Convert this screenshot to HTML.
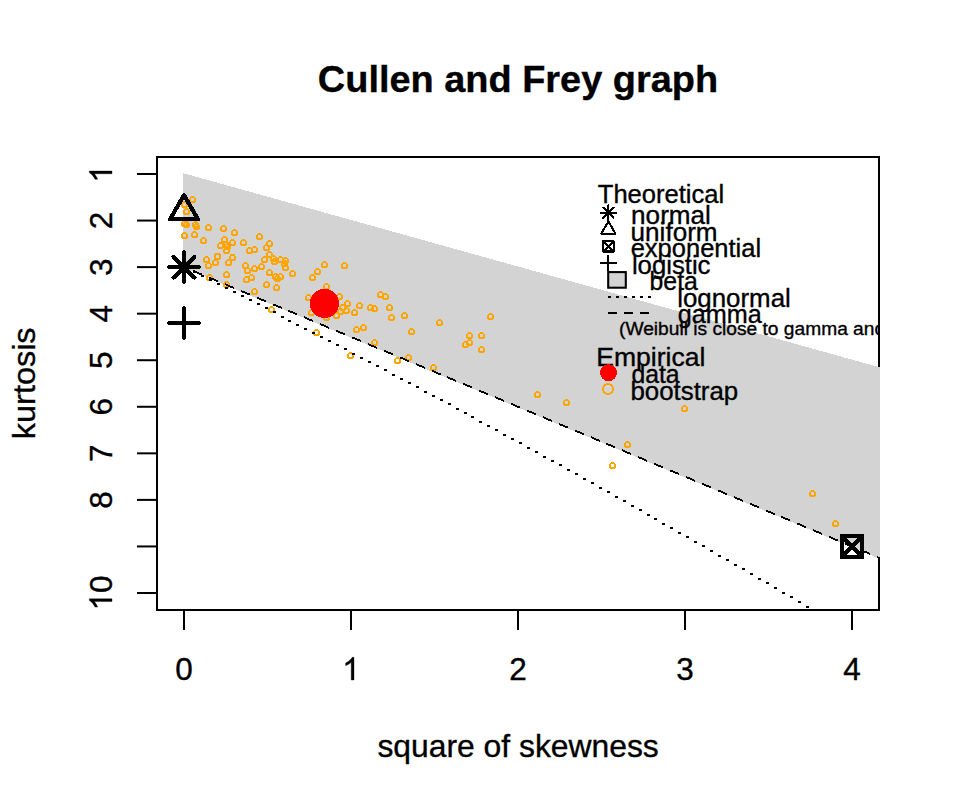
<!DOCTYPE html><html><head><meta charset="utf-8"><style>html,body{margin:0;padding:0;background:#fff;width:960px;height:806px;overflow:hidden}</style></head><body><svg width="960" height="806" viewBox="0 0 960 806" style="display:block">
<defs><clipPath id="c"><rect x="156.0" y="156.0" width="724.0" height="455.0"/></clipPath><clipPath id="c2"><rect x="156.0" y="156.0" width="722.0" height="455.0"/></clipPath></defs>
<rect width="960" height="806" fill="#fff"/>
<rect x="157.0" y="157.0" width="722.0" height="453.0" fill="none" stroke="#000" stroke-width="2"/>
<g clip-path="url(#c)">
<polygon points="183,173.11 880,367.42 880,558.95 183,267.48" fill="#d3d3d3" shape-rendering="crispEdges"/>
<g fill="none" stroke="#ffa500" stroke-width="2" shape-rendering="crispEdges"><circle cx="192.5" cy="199.5" r="2.5"/><circle cx="184.5" cy="204.5" r="2.5"/><circle cx="186.5" cy="211.5" r="2.5"/><circle cx="184.5" cy="223.5" r="2.5"/><circle cx="186.5" cy="224.5" r="2.5"/><circle cx="195.5" cy="224.5" r="2.5"/><circle cx="196.5" cy="226.5" r="2.5"/><circle cx="208.5" cy="227.5" r="2.5"/><circle cx="223.5" cy="228.5" r="2.5"/><circle cx="184.5" cy="235.5" r="2.5"/><circle cx="194.5" cy="234.5" r="2.5"/><circle cx="203.5" cy="240.5" r="2.5"/><circle cx="234.5" cy="232.5" r="2.5"/><circle cx="259.5" cy="236.5" r="2.5"/><circle cx="224.5" cy="239.5" r="2.5"/><circle cx="220.5" cy="245.5" r="2.5"/><circle cx="232.5" cy="242.5" r="2.5"/><circle cx="226.5" cy="250.5" r="2.5"/><circle cx="226.5" cy="244.5" r="2.5"/><circle cx="217.5" cy="256.5" r="2.5"/><circle cx="206.5" cy="259.5" r="2.5"/><circle cx="215.5" cy="262.5" r="2.5"/><circle cx="208.5" cy="265.5" r="2.5"/><circle cx="228.5" cy="262.5" r="2.5"/><circle cx="232.5" cy="257.5" r="2.5"/><circle cx="209.5" cy="277.5" r="2.5"/><circle cx="226.5" cy="274.5" r="2.5"/><circle cx="226.5" cy="284.5" r="2.5"/><circle cx="243.5" cy="242.5" r="2.5"/><circle cx="249.5" cy="250.5" r="2.5"/><circle cx="254.5" cy="249.5" r="2.5"/><circle cx="269.5" cy="243.5" r="2.5"/><circle cx="266.5" cy="247.5" r="2.5"/><circle cx="269.5" cy="254.5" r="2.5"/><circle cx="264.5" cy="259.5" r="2.5"/><circle cx="273.5" cy="258.5" r="2.5"/><circle cx="274.5" cy="261.5" r="2.5"/><circle cx="280.5" cy="259.5" r="2.5"/><circle cx="285.5" cy="260.5" r="2.5"/><circle cx="285.5" cy="267.5" r="2.5"/><circle cx="292.5" cy="273.5" r="2.5"/><circle cx="275.5" cy="276.5" r="2.5"/><circle cx="280.5" cy="276.5" r="2.5"/><circle cx="277.5" cy="278.5" r="2.5"/><circle cx="245.5" cy="265.5" r="2.5"/><circle cx="247.5" cy="270.5" r="2.5"/><circle cx="254.5" cy="268.5" r="2.5"/><circle cx="261.5" cy="266.5" r="2.5"/><circle cx="251.5" cy="277.5" r="2.5"/><circle cx="246.5" cy="279.5" r="2.5"/><circle cx="269.5" cy="272.5" r="2.5"/><circle cx="266.5" cy="284.5" r="2.5"/><circle cx="276.5" cy="287.5" r="2.5"/><circle cx="254.5" cy="291.5" r="2.5"/><circle cx="324.5" cy="264.5" r="2.5"/><circle cx="317.5" cy="271.5" r="2.5"/><circle cx="312.5" cy="277.5" r="2.5"/><circle cx="326.5" cy="286.5" r="2.5"/><circle cx="344.5" cy="265.5" r="2.5"/><circle cx="271.5" cy="309.5" r="2.5"/><circle cx="308.5" cy="297.5" r="2.5"/><circle cx="311.5" cy="312.5" r="2.5"/><circle cx="326.5" cy="317.5" r="2.5"/><circle cx="316.5" cy="332.5" r="2.5"/><circle cx="339.5" cy="296.5" r="2.5"/><circle cx="347.5" cy="303.5" r="2.5"/><circle cx="342.5" cy="307.5" r="2.5"/><circle cx="346.5" cy="310.5" r="2.5"/><circle cx="340.5" cy="311.5" r="2.5"/><circle cx="336.5" cy="315.5" r="2.5"/><circle cx="354.5" cy="312.5" r="2.5"/><circle cx="359.5" cy="305.5" r="2.5"/><circle cx="370.5" cy="307.5" r="2.5"/><circle cx="374.5" cy="308.5" r="2.5"/><circle cx="356.5" cy="329.5" r="2.5"/><circle cx="363.5" cy="327.5" r="2.5"/><circle cx="380.5" cy="294.5" r="2.5"/><circle cx="385.5" cy="296.5" r="2.5"/><circle cx="389.5" cy="307.5" r="2.5"/><circle cx="391.5" cy="317.5" r="2.5"/><circle cx="404.5" cy="315.5" r="2.5"/><circle cx="411.5" cy="331.5" r="2.5"/><circle cx="439.5" cy="322.5" r="2.5"/><circle cx="469.5" cy="335.5" r="2.5"/><circle cx="469.5" cy="342.5" r="2.5"/><circle cx="465.5" cy="344.5" r="2.5"/><circle cx="481.5" cy="335.5" r="2.5"/><circle cx="481.5" cy="349.5" r="2.5"/><circle cx="433.5" cy="367.5" r="2.5"/><circle cx="490.5" cy="316.5" r="2.5"/><circle cx="537.5" cy="394.5" r="2.5"/><circle cx="566.5" cy="402.5" r="2.5"/><circle cx="627.5" cy="444.5" r="2.5"/><circle cx="612.5" cy="465.5" r="2.5"/><circle cx="684.5" cy="408.5" r="2.5"/><circle cx="812.5" cy="493.5" r="2.5"/><circle cx="835.5" cy="523.5" r="2.5"/><circle cx="374.5" cy="342.5" r="2.5"/><circle cx="350.5" cy="355.5" r="2.5"/><circle cx="397.5" cy="360.5" r="2.5"/><circle cx="408.5" cy="357.5" r="2.5"/><circle cx="284.5" cy="263.5" r="2.5"/><circle cx="227.5" cy="246.5" r="2.5"/></g>
<path d="M184.00,266.10L186.09,266.97L186.09,268.97L184.00,268.10ZM192.99,269.86L201.99,273.62L201.99,275.62L192.99,271.86ZM208.89,276.51L217.89,280.27L217.89,282.27L208.89,278.51ZM224.80,283.16L233.80,286.92L233.80,288.92L224.80,285.16ZM240.70,289.81L249.70,293.57L249.70,295.57L240.70,291.81ZM256.61,296.46L265.61,300.23L265.61,302.23L256.61,298.46ZM272.51,303.11L281.51,306.88L281.51,308.88L272.51,305.11ZM288.41,309.76L297.41,313.53L297.41,315.53L288.41,311.76ZM304.32,316.41L313.32,320.18L313.32,322.18L304.32,318.41ZM320.22,323.06L329.22,326.83L329.22,328.83L320.22,325.06ZM336.13,329.71L345.13,333.48L345.13,335.48L336.13,331.71ZM352.03,336.37L361.03,340.13L361.03,342.13L352.03,338.37ZM367.93,343.02L376.93,346.78L376.93,348.78L367.93,345.02ZM383.84,349.67L392.84,353.43L392.84,355.43L383.84,351.67ZM399.74,356.32L408.74,360.08L408.74,362.08L399.74,358.32ZM415.65,362.97L424.65,366.73L424.65,368.73L415.65,364.97ZM431.55,369.62L440.55,373.38L440.55,375.38L431.55,371.62ZM447.45,376.27L456.45,380.03L456.45,382.03L447.45,378.27ZM463.36,382.92L472.36,386.68L472.36,388.68L463.36,384.92ZM479.26,389.57L488.26,393.33L488.26,395.33L479.26,391.57ZM495.17,396.22L504.17,399.98L504.17,401.98L495.17,398.22ZM511.07,402.87L520.07,406.63L520.07,408.63L511.07,404.87ZM526.97,409.52L535.97,413.28L535.97,415.28L526.97,411.52ZM542.88,416.17L551.88,419.94L551.88,421.94L542.88,418.17ZM558.78,422.82L567.78,426.59L567.78,428.59L558.78,424.82ZM574.69,429.47L583.69,433.24L583.69,435.24L574.69,431.47ZM590.59,436.12L599.59,439.89L599.59,441.89L590.59,438.12ZM606.49,442.77L615.49,446.54L615.49,448.54L606.49,444.77ZM622.40,449.42L631.40,453.19L631.40,455.19L622.40,451.42ZM638.30,456.08L647.30,459.84L647.30,461.84L638.30,458.08ZM654.21,462.73L663.21,466.49L663.21,468.49L654.21,464.73ZM670.11,469.38L679.11,473.14L679.11,475.14L670.11,471.38ZM686.01,476.03L695.01,479.79L695.01,481.79L686.01,478.03ZM701.92,482.68L710.92,486.44L710.92,488.44L701.92,484.68ZM717.82,489.33L726.82,493.09L726.82,495.09L717.82,491.33ZM733.73,495.98L742.73,499.74L742.73,501.74L733.73,497.98ZM749.63,502.63L758.63,506.39L758.63,508.39L749.63,504.63ZM765.53,509.28L774.53,513.04L774.53,515.04L765.53,511.28ZM781.44,515.93L790.44,519.69L790.44,521.69L781.44,517.93ZM797.34,522.58L806.34,526.34L806.34,528.34L797.34,524.58ZM813.25,529.23L822.25,533.00L822.25,535.00L813.25,531.23ZM829.15,535.88L838.15,539.65L838.15,541.65L829.15,537.88ZM845.05,542.53L854.05,546.30L854.05,548.30L845.05,544.53ZM860.96,549.18L869.96,552.95L869.96,554.95L860.96,551.18ZM876.86,555.83L881.00,557.56L881.00,559.56L876.86,557.83Z" fill="#000" shape-rendering="crispEdges"/>
<path d="M185,267h3v2h-3ZM193,271h3v2h-3ZM201,275h3v2h-3ZM209,279h3v2h-3ZM217,283h3v2h-3ZM225,287h3v2h-3ZM233,291h3v2h-3ZM241,295h3v2h-3ZM249,299h3v2h-3ZM257,303h3v2h-3ZM265,307h3v2h-3ZM273,311h3v2h-3ZM281,316h3v2h-3ZM288,320h3v2h-3ZM296,324h3v2h-3ZM304,328h3v2h-3ZM312,332h3v2h-3ZM320,336h3v2h-3ZM328,340h3v2h-3ZM336,344h3v2h-3ZM344,348h3v2h-3ZM352,353h3v2h-3ZM360,357h3v2h-3ZM368,361h3v2h-3ZM376,365h3v2h-3ZM384,369h3v2h-3ZM392,374h3v2h-3ZM400,378h3v2h-3ZM408,382h3v2h-3ZM416,386h3v2h-3ZM424,391h3v2h-3ZM432,395h3v2h-3ZM440,399h3v2h-3ZM448,403h3v2h-3ZM456,408h3v2h-3ZM464,412h3v2h-3ZM471,416h3v2h-3ZM479,421h3v2h-3ZM487,425h3v2h-3ZM495,429h3v2h-3ZM503,434h3v2h-3ZM511,438h3v2h-3ZM519,442h3v2h-3ZM527,447h3v2h-3ZM535,451h3v2h-3ZM543,456h3v2h-3ZM551,460h3v2h-3ZM559,464h3v2h-3ZM567,469h3v2h-3ZM575,473h3v2h-3ZM583,478h3v2h-3ZM591,482h3v2h-3ZM599,487h3v2h-3ZM607,491h3v2h-3ZM615,496h3v2h-3ZM623,500h3v2h-3ZM631,505h3v2h-3ZM639,509h3v2h-3ZM647,514h3v2h-3ZM654,518h3v2h-3ZM662,523h3v2h-3ZM670,527h3v2h-3ZM678,532h3v2h-3ZM686,536h3v2h-3ZM694,541h3v2h-3ZM702,545h3v2h-3ZM710,550h3v2h-3ZM718,555h3v2h-3ZM726,559h3v2h-3ZM734,564h3v2h-3ZM742,568h3v2h-3ZM750,573h3v2h-3ZM758,578h3v2h-3ZM766,582h3v2h-3ZM774,587h3v2h-3ZM782,592h3v2h-3ZM790,596h3v2h-3ZM798,601h3v2h-3ZM806,606h3v2h-3ZM814,610h3v2h-3Z" fill="#000" shape-rendering="crispEdges"/>
</g>
<g stroke="#000" stroke-width="4.17" shape-rendering="crispEdges" stroke-linecap="round"><line x1="173.6" y1="256.71" x2="194.4" y2="277.51"/><line x1="173.6" y1="277.51" x2="194.4" y2="256.71"/><line x1="169.29" y1="267.11" x2="198.71" y2="267.11"/><line x1="184" y1="252.4" x2="184" y2="281.82"/></g>
<polygon points="184,195.07 198.01,219.33 169.99,219.33" fill="none" stroke="#000" stroke-width="4.17" shape-rendering="crispEdges" stroke-linejoin="round"/>
<g stroke="#000" stroke-width="4.17" shape-rendering="crispEdges" stroke-linecap="round"><line x1="169.29" y1="322.98" x2="198.71" y2="322.98"/><line x1="184" y1="308.27" x2="184" y2="337.69"/></g>
<g stroke="#000" stroke-width="4.17" shape-rendering="crispEdges" fill="none" stroke-linejoin="round" stroke-linecap="round"><rect x="841.6" y="536.05" width="20.8" height="20.8"/><line x1="841.6" y1="536.05" x2="862.4" y2="556.85"/><line x1="841.6" y1="556.85" x2="862.4" y2="536.05"/></g>
<circle cx="324.5" cy="303.5" r="14.6" fill="#f00" shape-rendering="crispEdges"/>
<line x1="184" y1="610.0" x2="184" y2="630.0" stroke="#000" stroke-width="2"/>
<text x="184" y="680" font-family="'Liberation Sans', sans-serif" font-size="31.5" stroke="#000" stroke-width="0.35" text-anchor="middle">0</text>
<line x1="351" y1="610.0" x2="351" y2="630.0" stroke="#000" stroke-width="2"/>
<path transform="translate(342.24,680)" d="M 11.74,-0.00 L 8.97,-0.00 L 8.97,-17.64 Q 7.97,-16.69 6.34,-15.73 Q 4.72,-14.78 3.43,-14.30 L 3.43,-16.98 Q 5.75,-18.07 7.49,-19.63 Q 9.23,-21.18 9.95,-22.64 L 11.74,-22.64 Z" fill="#000" stroke="#000" stroke-width="0.35"/>
<line x1="518" y1="610.0" x2="518" y2="630.0" stroke="#000" stroke-width="2"/>
<text x="518" y="680" font-family="'Liberation Sans', sans-serif" font-size="31.5" stroke="#000" stroke-width="0.35" text-anchor="middle">2</text>
<line x1="685" y1="610.0" x2="685" y2="630.0" stroke="#000" stroke-width="2"/>
<text x="685" y="680" font-family="'Liberation Sans', sans-serif" font-size="31.5" stroke="#000" stroke-width="0.35" text-anchor="middle">3</text>
<line x1="852" y1="610.0" x2="852" y2="630.0" stroke="#000" stroke-width="2"/>
<text x="852" y="680" font-family="'Liberation Sans', sans-serif" font-size="31.5" stroke="#000" stroke-width="0.35" text-anchor="middle">4</text>
<line x1="157.0" y1="174" x2="137.0" y2="174" stroke="#000" stroke-width="2"/>
<g transform="translate(112,174) rotate(-90)"><path transform="translate(-8.76,0)" d="M 11.74,-0.00 L 8.97,-0.00 L 8.97,-17.64 Q 7.97,-16.69 6.34,-15.73 Q 4.72,-14.78 3.43,-14.30 L 3.43,-16.98 Q 5.75,-18.07 7.49,-19.63 Q 9.23,-21.18 9.95,-22.64 L 11.74,-22.64 Z" fill="#000" stroke="#000" stroke-width="0.35"/></g>
<line x1="157.0" y1="220.56" x2="137.0" y2="220.56" stroke="#000" stroke-width="2"/>
<text transform="translate(112,220.56) rotate(-90)" font-family="'Liberation Sans', sans-serif" font-size="31.5" stroke="#000" stroke-width="0.35" text-anchor="middle">2</text>
<line x1="157.0" y1="267.11" x2="137.0" y2="267.11" stroke="#000" stroke-width="2"/>
<text transform="translate(112,267.11) rotate(-90)" font-family="'Liberation Sans', sans-serif" font-size="31.5" stroke="#000" stroke-width="0.35" text-anchor="middle">3</text>
<line x1="157.0" y1="313.67" x2="137.0" y2="313.67" stroke="#000" stroke-width="2"/>
<text transform="translate(112,313.67) rotate(-90)" font-family="'Liberation Sans', sans-serif" font-size="31.5" stroke="#000" stroke-width="0.35" text-anchor="middle">4</text>
<line x1="157.0" y1="360.22" x2="137.0" y2="360.22" stroke="#000" stroke-width="2"/>
<text transform="translate(112,360.22) rotate(-90)" font-family="'Liberation Sans', sans-serif" font-size="31.5" stroke="#000" stroke-width="0.35" text-anchor="middle">5</text>
<line x1="157.0" y1="406.78" x2="137.0" y2="406.78" stroke="#000" stroke-width="2"/>
<text transform="translate(112,406.78) rotate(-90)" font-family="'Liberation Sans', sans-serif" font-size="31.5" stroke="#000" stroke-width="0.35" text-anchor="middle">6</text>
<line x1="157.0" y1="453.34" x2="137.0" y2="453.34" stroke="#000" stroke-width="2"/>
<text transform="translate(112,453.34) rotate(-90)" font-family="'Liberation Sans', sans-serif" font-size="31.5" stroke="#000" stroke-width="0.35" text-anchor="middle">7</text>
<line x1="157.0" y1="499.89" x2="137.0" y2="499.89" stroke="#000" stroke-width="2"/>
<text transform="translate(112,499.89) rotate(-90)" font-family="'Liberation Sans', sans-serif" font-size="31.5" stroke="#000" stroke-width="0.35" text-anchor="middle">8</text>
<line x1="157.0" y1="546.45" x2="137.0" y2="546.45" stroke="#000" stroke-width="2"/>
<line x1="157.0" y1="593" x2="137.0" y2="593" stroke="#000" stroke-width="2"/>
<g transform="translate(112,593) rotate(-90)"><path transform="translate(-17.52,0)" d="M 11.74,-0.00 L 8.97,-0.00 L 8.97,-17.64 Q 7.97,-16.69 6.34,-15.73 Q 4.72,-14.78 3.43,-14.30 L 3.43,-16.98 Q 5.75,-18.07 7.49,-19.63 Q 9.23,-21.18 9.95,-22.64 L 11.74,-22.64 Z" fill="#000" stroke="#000" stroke-width="0.35"/><text x="0" y="0" font-family="'Liberation Sans', sans-serif" font-size="31.5" stroke="#000" stroke-width="0.35">0</text></g>
<g stroke="#000" stroke-width="2.08" shape-rendering="crispEdges" stroke-linecap="round"><line x1="603.2" y1="207.6" x2="613.6" y2="218"/><line x1="603.2" y1="218" x2="613.6" y2="207.6"/><line x1="601.05" y1="212.8" x2="615.75" y2="212.8"/><line x1="608.4" y1="205.45" x2="608.4" y2="220.15"/></g>
<polygon points="608.4,221.41 615.4,233.54 601.4,233.54" fill="none" stroke="#000" stroke-width="2.08" shape-rendering="crispEdges" stroke-linejoin="round"/>
<g stroke="#000" stroke-width="2.08" shape-rendering="crispEdges" fill="none" stroke-linejoin="round" stroke-linecap="round"><rect x="603.2" y="241.1" width="10.4" height="10.4"/><line x1="603.2" y1="241.1" x2="613.6" y2="251.5"/><line x1="603.2" y1="251.5" x2="613.6" y2="241.1"/></g>
<g stroke="#000" stroke-width="2.08" shape-rendering="crispEdges" stroke-linecap="round"><line x1="601.05" y1="263" x2="615.75" y2="263"/><line x1="608.4" y1="255.65" x2="608.4" y2="270.35"/></g>
<rect x="608.2" y="272.1" width="17.6" height="15.6" fill="#d3d3d3" stroke="#000" stroke-width="2.08"/>
<path d="M608,296h3v2h-3ZM616,296h3v2h-3ZM624,296h3v2h-3ZM632,296h3v2h-3ZM640,296h3v2h-3ZM648,296h3v2h-3Z" fill="#000" shape-rendering="crispEdges"/>
<path d="M608,312h9v2h-9ZM624,312h9v2h-9ZM640,312h9v2h-9Z" fill="#000" shape-rendering="crispEdges"/>
<text id="title" x="518.00" y="92.30" font-family="'Liberation Sans', sans-serif" font-size="37.80" stroke="#000" stroke-width="0.35" font-weight="bold" text-anchor="middle" textLength="400.23" lengthAdjust="spacingAndGlyphs">Cullen and Frey graph</text>
<text id="xlab" x="518.10" y="756.70" font-family="'Liberation Sans', sans-serif" font-size="31.50" stroke="#000" stroke-width="0.35" text-anchor="middle" textLength="281.41" lengthAdjust="spacingAndGlyphs">square of skewness</text>
<text id="ylab" transform="translate(34.60,383.30) rotate(-90)" font-family="'Liberation Sans', sans-serif" font-size="31.50" stroke="#000" stroke-width="0.35" text-anchor="middle" textLength="111.73" lengthAdjust="spacingAndGlyphs">kurtosis</text>
<text id="Theoretical" x="597.80" y="202.60" font-family="'Liberation Sans', sans-serif" font-size="25.20" stroke="#000" stroke-width="0.35" textLength="126.41" lengthAdjust="spacingAndGlyphs">Theoretical</text>
<text id="normal" x="631.10" y="223.70" font-family="'Liberation Sans', sans-serif" font-size="25.20" stroke="#000" stroke-width="0.35" textLength="79.80" lengthAdjust="spacingAndGlyphs">normal</text>
<text id="uniform" x="630.60" y="240.50" font-family="'Liberation Sans', sans-serif" font-size="25.20" stroke="#000" stroke-width="0.35" textLength="87.00" lengthAdjust="spacingAndGlyphs">uniform</text>
<text id="exponential" x="630.70" y="257.20" font-family="'Liberation Sans', sans-serif" font-size="25.20" stroke="#000" stroke-width="0.35" textLength="130.44" lengthAdjust="spacingAndGlyphs">exponential</text>
<text id="logistic" x="631.90" y="273.60" font-family="'Liberation Sans', sans-serif" font-size="25.20" stroke="#000" stroke-width="0.35" textLength="78.60" lengthAdjust="spacingAndGlyphs">logistic</text>
<text id="beta" x="649.60" y="290.10" font-family="'Liberation Sans', sans-serif" font-size="25.20" stroke="#000" stroke-width="0.35" textLength="48.23" lengthAdjust="spacingAndGlyphs">beta</text>
<text id="lognormal" x="677.20" y="306.50" font-family="'Liberation Sans', sans-serif" font-size="25.20" stroke="#000" stroke-width="0.35" textLength="113.61" lengthAdjust="spacingAndGlyphs">lognormal</text>
<text id="gamma" x="677.70" y="323.00" font-family="'Liberation Sans', sans-serif" font-size="25.20" stroke="#000" stroke-width="0.35" textLength="84.00" lengthAdjust="spacingAndGlyphs">gamma</text>
<g clip-path="url(#c2)"><text id="weibull" x="619.00" y="334.80" font-family="'Liberation Sans', sans-serif" font-size="18.90" stroke="#000" stroke-width="0.35" textLength="362.06" lengthAdjust="spacingAndGlyphs">(Weibull is close to gamma and lognormal)</text></g>
<text id="Empirical" x="596.20" y="365.50" font-family="'Liberation Sans', sans-serif" font-size="25.20" stroke="#000" stroke-width="0.35" textLength="109.18" lengthAdjust="spacingAndGlyphs">Empirical</text>
<text id="data" x="631.40" y="382.80" font-family="'Liberation Sans', sans-serif" font-size="25.20" stroke="#000" stroke-width="0.35" textLength="48.23" lengthAdjust="spacingAndGlyphs">data</text>
<text id="bootstrap" x="630.40" y="399.60" font-family="'Liberation Sans', sans-serif" font-size="25.20" stroke="#000" stroke-width="0.35" textLength="107.83" lengthAdjust="spacingAndGlyphs">bootstrap</text>
<circle cx="608.5" cy="372.7" r="8.5" fill="#f00" shape-rendering="crispEdges"/>
<circle cx="608" cy="389" r="5" fill="none" stroke="#ffa500" stroke-width="2" shape-rendering="crispEdges"/>
</svg></body></html>
